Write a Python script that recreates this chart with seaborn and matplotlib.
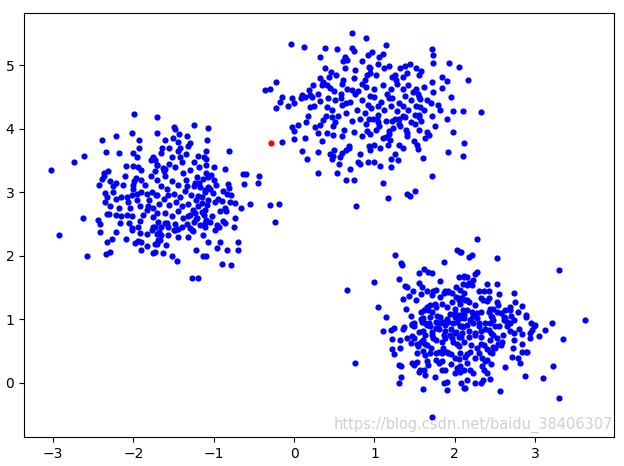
import matplotlib
matplotlib.use("Agg")
import matplotlib.pyplot as plt
import seaborn as sns
import pandas as pd

# ---- data (x, y) ----
cluster_left = [
    (-1.99,4.23),(-1.71,4.18),(-1.70,3.93),(-2.02,3.94),(-2.21,3.89),(-2.39,3.82),(-1.93,3.82),(-1.93,3.69),
    (-2.34,3.64),(-2.18,3.62),(-2.01,3.62),(-1.96,3.55),(-2.61,3.57),(-2.74,3.47),(-3.02,3.35),(-2.09,3.41),
    (-2.00,3.42),(-1.94,3.40),(-1.91,3.35),(-1.78,3.50),(-1.70,3.43),(-2.31,3.34),(-2.36,3.31),(-2.37,3.26),
    (-2.39,3.21),(-2.43,3.12),(-2.29,3.18),(-2.25,3.10),(-2.21,3.15),(-2.13,3.11),(-1.97,3.23),(-1.99,3.17),
    (-2.01,3.12),(-2.35,2.99),
    (-1.50,4.03),(-1.48,4.00),(-1.25,4.06),(-1.07,4.01),(-1.61,3.82),(-1.51,3.85),(-1.43,3.91),(-1.33,3.88),
    (-1.64,3.70),(-1.44,3.79),(-1.42,3.69),(-1.30,3.77),(-1.32,3.72),(-1.08,3.82),(-1.09,3.65),(-1.19,3.57),
    (-0.81,3.65),(-1.09,3.52),(-1.10,3.43),(-1.00,3.39),(-0.86,3.37),(-0.64,3.29),(-0.60,3.29),(-0.44,3.25),
    (-0.45,3.14),(-0.62,3.13),(-0.82,3.13),(-0.81,3.06),(-0.97,3.11),(-1.01,2.99),(-1.21,3.24),(-1.13,3.21),
    (-1.07,3.24),(-1.03,3.27),(-1.23,3.14),(-1.17,3.09),(-1.11,3.03),(-1.07,3.09),(-1.73,3.50),(-1.71,3.43),
    (-1.73,3.33),(-1.62,3.34),(-1.61,3.37),
    (-2.33,2.92),(-2.35,2.85),(-2.29,2.78),(-2.21,2.90),(-2.15,2.93),(-2.08,2.93),(-2.02,2.96),(-1.96,2.98),
    (-1.90,3.00),(-1.83,2.98),(-1.77,3.01),(-1.71,2.96),(-2.06,2.85),(-2.04,2.76),(-1.92,2.78),(-1.83,2.72),
    (-1.75,2.75),(-1.71,2.67),(-1.75,2.61),(-1.69,2.54),(-2.33,2.66),(-2.30,2.66),(-2.21,2.64),(-2.15,2.63),
    (-2.08,2.64),(-2.02,2.63),(-2.62,2.60),(-2.44,2.56),(-2.42,2.50),(-2.17,2.51),(-2.05,2.51),(-2.02,2.43),
    (-2.02,2.41),(-1.94,2.45),(-1.92,2.36),(-1.83,2.35),(-1.77,2.41),(-1.73,2.46),(-2.42,2.38),(-2.21,2.38),
    (-2.92,2.32),(-2.33,2.22),(-2.27,2.26),(-2.09,2.26),(-1.98,2.20),(-1.94,2.24),(-1.90,2.21),(-1.83,2.15),
    (-1.73,2.19),(-1.90,2.09),(-1.75,2.05),(-2.34,2.03),(-2.29,2.06),(-2.58,2.00),(-1.69,2.25),(-1.71,2.35),
    (-0.73,2.83),(-0.66,2.76),(-0.55,2.81),(-0.30,2.80),(-0.19,2.81),(-0.24,2.54),(-0.83,2.98),(-0.78,2.96),
    (-0.90,2.87),(-0.86,2.75),(-0.85,2.71),(-1.11,3.01),(-1.19,2.94),(-0.98,2.85),(-1.07,2.88),(-1.15,2.83),
    (-0.73,2.59),(-0.75,2.45),(-0.88,2.55),(-0.86,2.51),(-0.96,2.48),(-0.99,2.41),(-0.94,2.46),(-1.09,2.57),
    (-1.05,2.54),(-1.11,2.51),(-1.11,2.46),(-1.13,2.32),(-1.07,2.22),(-0.92,2.21),(-0.96,2.13),(-0.70,2.21),
    (-0.70,2.09),(-0.84,2.09),(-1.22,2.09),(-1.32,2.29),(-1.26,2.39),(-1.30,2.43),(-1.13,1.99),(-1.09,2.00),
    (-0.90,1.87),(-0.78,1.85),(-1.52,1.99),(-1.46,1.92),(-1.63,2.05),(-1.27,1.65),(-1.20,1.65),(-1.59,2.17),
    (-1.67,2.25),(-1.66,2.33),(-1.71,2.19),(-1.73,2.06),(-1.32,2.62),(-1.25,2.54),(-1.21,2.59),(-1.23,2.67),
    (-1.15,2.69),(-1.11,2.72),(-1.48,2.41),(-1.44,2.42),(-1.57,2.46),(-1.61,2.51),(-1.65,2.46),
    (-1.55,3.45),(-1.48,3.40),(-1.42,3.55),(-1.38,3.30),(-1.60,3.25),(-1.52,3.18),(-1.45,3.12),(-1.35,3.20),
    (-1.30,3.35),(-1.25,3.10),(-1.65,3.10),(-1.70,3.20),(-1.58,3.05),(-1.50,2.98),(-1.42,2.92),(-1.36,3.02),
    (-1.28,2.95),(-1.22,2.88),(-1.18,3.15),(-1.62,2.90),(-1.68,2.82),(-1.55,2.80),(-1.47,2.85),(-1.40,2.78),
    (-1.32,2.82),(-1.26,2.72),(-1.20,2.78),(-1.15,2.92),(-1.60,2.68),(-1.52,2.62),(-1.45,2.70),(-1.38,2.60),
    (-1.30,2.65),(-1.22,2.58),(-1.58,2.52),(-1.48,2.50),(-1.40,2.45),(-1.33,2.50),(-1.80,2.88),(-1.85,3.12),
    (-1.78,3.25),(-1.88,2.65),(-1.92,2.55),(-1.65,3.62),(-1.55,3.70),(-1.45,3.65),(-1.35,3.60),(-1.25,3.48),
    (-1.10,3.30),(-1.05,3.05),(-1.08,2.80),(-1.12,2.65),(-1.02,2.62),(-0.95,2.90),(-0.92,2.70),(-1.75,2.45),
    (-1.68,2.38),(-1.57,2.32),(-1.50,2.40),(-1.44,2.30),(-1.72,2.95),(-1.82,2.78),(-1.95,2.88),(-2.00,3.05),
    (-1.90,3.20),(-2.10,3.25),(-2.18,2.75),(-2.25,3.00),(-1.40,3.48),(-1.33,3.10),(-1.57,2.95),(-1.63,3.38),
    (-1.75,3.55),(-1.52,3.55),(-1.18,3.40),(-1.12,3.55),(-1.00,3.20),(-0.88,3.02),(-0.80,2.85),(-1.27,2.40),
    (-1.17,2.48),
]

cluster_top = [
    (0.72,5.51),(0.89,5.43),(-0.04,5.34),(0.12,5.28),(0.39,5.27),(0.54,5.25),(0.72,5.27),(0.75,5.22),
    (0.92,5.16),(0.32,5.13),(0.63,5.13),(0.66,5.08),(0.61,5.07),(0.85,5.06),(0.39,4.95),(0.46,4.89),
    (0.52,4.85),(0.44,4.82),(0.63,4.95),(0.76,4.92),(0.91,4.84),(0.95,4.87),(0.32,4.79),(0.36,4.73),
    (0.41,4.69),(0.45,4.64),(0.35,4.69),(0.61,4.77),(0.84,4.70),(0.88,4.76),(0.24,4.69),(-0.22,4.73),
    (-0.30,4.63),(-0.36,4.61),(0.18,4.61),(0.66,4.63),(0.72,4.61),(0.76,4.55),(0.10,4.53),(0.14,4.50),
    (0.20,4.53),(0.22,4.50),(-0.15,4.50),(-0.17,4.42),(-0.03,4.49),(0.00,4.40),(-0.08,4.36),(0.08,4.48),
    (0.32,4.43),(0.20,4.34),(-0.22,4.32),(0.17,4.20),(0.41,4.34),(0.47,4.29),(0.51,4.45),(0.58,4.55),
    (0.59,4.37),(0.64,4.40),
    (1.14,5.31),(1.71,5.25),(1.73,5.16),(0.97,5.20),(1.11,5.17),(1.06,5.13),(1.73,5.04),(1.93,5.04),
    (2.05,4.97),(2.16,4.77),(1.04,5.02),(0.93,4.97),(1.12,4.96),(1.32,4.95),(1.38,4.99),(1.44,5.01),
    (1.52,4.95),(1.58,4.91),(1.55,4.84),(1.40,4.87),(1.36,4.82),(1.27,4.76),(1.22,4.82),(1.71,4.73),
    (1.84,4.81),(1.90,4.75),(1.84,4.64),(1.73,4.58),(1.95,4.50),(1.79,4.38),(1.98,4.28),(2.10,4.28),
    (2.32,4.27),(1.71,4.20),(1.52,4.63),(1.54,4.55),(1.57,4.46),(1.57,4.34),(1.55,4.21),
    (-0.15,3.79),(-0.03,4.03),(0.00,3.96),(0.05,4.06),(0.00,3.84),(0.14,3.86),(0.10,3.65),(0.16,3.52),
    (0.30,3.63),(0.30,3.31),(0.77,2.78),(0.53,3.31),(0.65,3.19),(0.74,3.20),(0.70,3.36),(0.56,3.44),
    (0.45,3.60),(0.47,3.53),(0.49,3.57),(0.57,3.56),(0.60,3.61),(0.64,3.66),(0.68,3.72),(0.50,3.67),
    (0.30,3.93),(0.41,3.94),(0.49,3.90),(0.60,3.89),(0.26,4.03),(0.32,4.06),(0.36,4.14),(0.47,4.19),
    (0.51,4.11),(0.79,3.48),(0.82,3.45),(0.92,3.47),
    (2.12,3.77),(2.10,3.57),(1.91,3.63),(1.71,3.26),(1.61,3.54),(1.63,3.86),(1.65,3.95),(1.56,3.98),
    (1.49,3.81),(1.53,3.75),(1.54,3.68),(1.35,3.70),(1.29,3.51),(1.20,3.53),(1.20,3.39),(1.07,3.41),
    (0.99,3.47),(1.11,3.14),(1.17,2.91),(1.40,2.97),(1.44,2.94),(1.51,3.02),(1.07,3.70),(0.95,3.66),
    (0.93,3.72),(1.11,3.85),(1.14,3.87),(1.17,3.75),(1.19,3.82),(1.18,3.96),(1.23,4.01),(1.30,4.07),
    (1.39,3.98),(1.40,3.94),(1.50,4.08),(1.55,4.19),(1.38,4.19),(1.30,4.16),(1.22,4.12),(1.05,4.11),
    (1.03,4.15),(0.93,4.16),(0.91,3.96),(0.95,3.92),
    (0.85,4.45),(0.92,4.38),(1.00,4.50),(1.08,4.42),(1.15,4.55),(1.22,4.48),(1.30,4.40),(1.38,4.52),
    (1.45,4.45),(1.52,4.36),(0.78,4.30),(0.88,4.25),(0.96,4.32),(1.04,4.22),(1.12,4.30),(1.20,4.35),
    (1.28,4.28),(1.35,4.20),(1.42,4.30),(1.50,4.22),(0.70,4.42),(0.65,4.25),(0.72,4.12),(0.82,4.15),
    (0.90,4.08),(0.98,4.15),(1.06,4.05),(1.14,4.12),(1.25,4.15),(1.32,4.05),(1.45,4.10),(1.58,4.12),
    (1.62,4.30),(1.65,4.45),(0.80,4.60),(0.90,4.65),(1.00,4.62),(1.10,4.68),(1.20,4.62),(1.28,4.70),
    (1.35,4.62),(1.42,4.68),(1.48,4.58),(0.55,4.20),(0.48,4.05),(0.40,4.20),(0.62,3.98),(0.75,3.95),
    (0.85,3.88),(0.58,4.48),(0.50,4.60),(0.42,4.48),(1.02,3.98),(1.18,3.92),(0.95,4.52),(1.05,4.35),
    (1.18,4.48),(1.35,4.35),(1.55,4.50),(1.70,4.40),(1.75,4.05),(1.68,3.90),(0.25,4.35),(0.30,4.55),
    (0.15,4.10),(0.35,3.80),(0.68,3.70),(0.82,3.60),(1.00,3.75),(1.25,3.60),(0.60,4.70),(0.75,4.80),
    (1.02,4.85),(1.25,4.85),(0.95,4.95),(1.18,4.98),(1.62,4.65),(1.82,4.30),(1.90,4.15),(1.98,3.95),
    (1.40,3.88),(1.30,3.75),
]

cluster_right = [
    (1.26,2.01),(1.33,1.89),(1.34,1.86),(2.03,2.09),(2.08,2.06),(1.87,1.90),(1.55,1.73),(1.62,1.79),
    (1.67,1.75),(1.71,1.73),(0.99,1.59),(0.66,1.46),(1.30,1.64),(1.38,1.53),(1.40,1.51),(1.56,1.57),
    (1.59,1.51),(1.82,1.60),(2.05,1.67),(2.11,1.67),(2.01,1.51),(1.43,1.37),(1.36,1.32),(1.58,1.40),
    (1.65,1.44),(1.73,1.44),(1.76,1.46),(1.71,1.38),(1.86,1.41),(1.88,1.44),(1.92,1.43),(1.96,1.41),
    (1.82,1.35),(1.84,1.25),(1.76,1.20),(1.69,1.23),(1.65,1.20),(1.66,1.15),(1.04,1.19),(1.14,1.04),
    (1.39,1.16),(1.58,1.11),(1.61,1.02),(1.58,1.00),(1.69,1.04),(1.71,1.12),(1.47,0.93),
    (1.96,1.28),(2.05,1.30),(2.09,1.33),(2.07,1.25),(2.00,1.17),(1.94,1.09),(2.00,1.04),(2.07,1.07),
    (1.92,0.96),(2.03,0.96),(1.82,1.03),(1.85,0.96),(1.76,0.96),(1.63,0.94),(2.11,1.02),
    (2.28,2.27),(2.07,2.06),(2.17,1.98),(2.21,2.01),(2.53,1.96),(3.30,1.78),(2.28,1.75),(2.25,1.72),
    (2.11,1.68),(2.15,1.67),(2.23,1.62),(2.17,1.58),(2.21,1.54),(2.15,1.54),(2.52,1.56),(2.36,1.45),
    (2.42,1.44),(2.32,1.33),(2.40,1.29),(2.42,1.33),(2.74,1.41),(2.75,1.28),(2.84,1.21),(2.69,1.20),
    (2.68,1.15),(2.79,1.12),(2.88,1.07),(2.89,1.03),(2.52,1.28),(2.54,1.23),(2.48,1.16),(2.52,1.12),
    (2.57,1.10),(2.44,1.17),(2.42,1.12),(2.46,1.04),(2.61,1.03),(2.48,0.99),(2.38,0.95),(2.65,0.96),
    (2.73,0.99),(2.63,1.02),(3.00,0.91),(3.21,0.95),(3.62,0.99),(2.07,1.46),(2.11,1.41),(2.07,1.33),
    (2.13,1.31),(2.17,1.28),(2.15,1.15),(2.21,1.12),(2.11,1.07),(2.23,1.07),(2.28,1.02),(2.19,0.99),
    (2.07,1.02),(2.32,1.12),
    (0.76,0.32),(1.11,0.81),(1.20,0.83),(1.24,0.86),(1.37,0.88),(1.22,0.69),(1.22,0.53),(1.24,0.45),
    (1.32,0.55),(1.32,0.67),(1.31,0.28),(1.33,0.26),(1.30,0.00),(1.33,0.10),(1.60,-0.09),(1.71,-0.53),
    (1.90,-0.11),(1.86,0.00),(1.90,0.02),(1.47,0.32),(1.49,0.28),(1.53,0.33),(1.55,0.18),(1.57,0.20),
    (1.62,0.20),(1.63,0.13),(1.67,0.29),(1.53,0.47),(1.53,0.61),(1.54,0.58),(1.45,0.63),(1.49,0.70),
    (1.47,0.74),(1.49,0.89),(1.49,0.94),(1.47,0.91),(1.63,0.44),(1.69,0.47),(1.76,0.47),(1.80,0.49),
    (1.84,0.47),(1.90,0.49),(1.92,0.47),(1.76,0.36),(1.80,0.32),(1.84,0.34),(1.84,0.20),(1.88,0.20),
    (2.00,0.40),(2.03,0.23),(2.07,0.18),(2.08,0.00),(2.11,-0.08),(1.61,0.81),(1.63,0.75),(1.61,0.68),
    (1.63,0.62),(1.65,0.60),(1.71,0.75),(1.73,0.70),(1.76,0.68),(1.84,0.65),(1.86,0.75),(1.88,0.81),
    (1.94,0.75),(1.96,0.70),(2.00,0.78),(2.05,0.73),(2.03,0.62),(2.07,0.89),(1.98,0.94),(1.88,0.91),
    (1.80,0.94),(1.69,0.90),(1.76,0.86),(1.65,0.91),(1.59,0.96),
    (3.34,0.69),(3.12,0.84),(3.05,0.74),(2.99,0.89),(2.96,0.84),(2.93,0.78),(2.84,0.77),(2.93,0.70),
    (2.84,0.61),(2.84,0.49),(2.88,0.49),(2.90,0.49),(2.71,0.41),(2.81,0.31),(2.87,0.11),(3.22,0.26),
    (3.10,0.08),(3.29,-0.23),(2.56,-0.13),(2.73,0.68),(2.74,0.78),(2.69,0.81),(2.65,0.89),(2.69,0.94),
    (2.61,0.99),(2.59,0.65),(2.57,0.60),(2.54,0.62),(2.48,0.57),(2.46,0.47),(2.44,0.49),(2.40,0.54),
    (2.36,0.60),(2.32,0.61),(2.30,0.47),(2.34,0.39),(2.38,0.34),(2.40,0.36),(2.34,0.26),(2.36,0.20),
    (2.40,0.15),(2.44,0.06),(2.32,0.00),(2.25,0.00),(2.15,0.05),(2.13,-0.08),(2.11,0.20),(2.19,0.20),
    (2.07,0.26),(2.15,0.31),(2.13,0.41),(2.07,0.47),(2.19,0.49),(2.09,0.89),(2.15,0.91),(2.23,0.94),
    (2.30,0.89),(2.32,0.81),(2.25,0.75),(2.17,0.73),(2.09,0.78),(2.42,0.83),(2.48,0.75),(2.44,0.68),
    (2.52,0.70),(2.50,0.89),(2.44,0.94),
    (1.95,0.85),(2.02,0.80),(2.10,0.88),(2.18,0.82),(2.25,0.78),(2.32,0.72),(1.88,0.70),(1.98,0.65),
    (2.05,0.58),(2.12,0.65),(2.20,0.60),(2.28,0.55),(1.80,0.85),(1.72,0.80),(1.68,0.95),(1.78,1.05),
    (1.90,1.00),(2.00,1.10),(2.10,1.15),(2.20,1.00),(2.30,0.95),(2.38,0.85),(2.45,0.78),(1.62,1.15),
    (1.75,1.25),(1.90,1.20),(2.02,1.35),(2.15,1.30),(2.25,1.22),(2.35,1.30),(2.45,1.05),(1.85,0.55),
    (1.95,0.45),(2.05,0.38),(2.15,0.45),(2.25,0.40),(1.70,0.55),(1.60,0.50),(1.55,0.80),(1.45,1.05),
    (1.40,0.70),(1.35,0.85),(2.55,0.90),(2.60,0.75),(2.50,0.55),(2.62,1.15),(2.70,1.05),(2.55,1.40),
    (2.40,1.55),(2.30,1.45),(1.52,1.30),(1.48,1.45),(1.95,0.30),(2.00,0.15),(1.75,0.10),(2.22,0.15),
    (2.35,0.05),(1.65,0.35),(2.08,0.72),(1.82,0.95),(2.28,1.10),(1.92,1.45),(2.10,1.55),(1.58,0.65),
    (2.72,0.55),(2.80,0.85),(2.95,0.95),(2.78,0.40),(2.62,0.25),(2.45,0.30),
]

highlight = [(-0.29, 3.77)]

x_ticks = [-3, -2, -1, 0, 1, 2, 3]
y_ticks = [0, 1, 2, 3, 4, 5]
watermark = "https://blog.csdn.net/baidu_38406307"

# ---- build table ----
blue_pts = cluster_left + cluster_top + cluster_right
df_blue = pd.DataFrame(blue_pts, columns=["x", "y"])
df_red = pd.DataFrame(highlight, columns=["x", "y"])

fig = plt.figure(figsize=(6.24, 4.66), dpi=100)
ax = fig.add_axes([24 / 624, 29 / 466, 590 / 624, 424 / 466])

sns.scatterplot(data=df_blue, x="x", y="y", color="#0000ff", marker="o",
                s=20, linewidth=0, ax=ax)
sns.scatterplot(data=df_red, x="x", y="y", color="#ff0000", marker="o",
                s=20, linewidth=0, ax=ax)

ax.set_xlim(-3.36, 3.98)
ax.set_ylim(-0.85, 5.82)
ax.set_xticks(x_ticks)
ax.set_yticks(y_ticks)
ax.set_xlabel("")
ax.set_ylabel("")
ax.tick_params(labelsize=10)

# watermark kept just above the x axis so it does not collide with tick labels
fig.text(0.982, 33 / 466, watermark, ha="right", va="bottom", fontsize=10.5,
         color="#d0d0d0")

fig.savefig("out.png", dpi=100)
